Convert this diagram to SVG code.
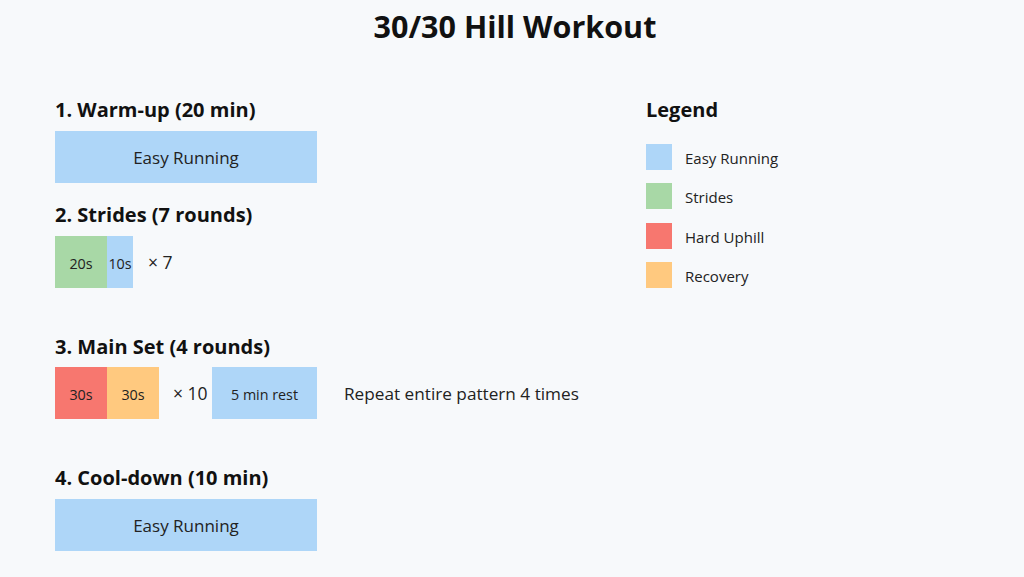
<svg xmlns="http://www.w3.org/2000/svg" width="1024" height="577" viewBox="0 0 1024 577">
<style>
.bg{fill:#f7f9fb}
.h{font-family:"Open Sans","Noto Sans",sans-serif;font-weight:bold;font-size:20px;fill:#111}
.t{font-family:"Open Sans","Noto Sans",sans-serif;font-size:17px;fill:#222;text-anchor:middle;dominant-baseline:central}
.s{font-family:"Open Sans","Noto Sans",sans-serif;font-size:14.3px;fill:#222;text-anchor:middle;dominant-baseline:central}
.l{font-family:"Open Sans","Noto Sans",sans-serif;font-size:15px;fill:#222;dominant-baseline:central}
.easy{fill:#aed6f8}
.str{fill:#a8d8a6}
.hard{fill:#f7776f}
.rec{fill:#ffc97f}
</style>
<rect class="bg" x="0" y="0" width="1024" height="577"/>
<text x="515" y="38" text-anchor="middle" style="font-family:'Open Sans','Noto Sans',sans-serif;font-weight:bold;font-size:30.5px;fill:#111">30/30 Hill Workout</text>
<g id="warmup">
<text class="h" x="55" y="117">1. Warm-up (20 min)</text>
<rect class="easy" x="55" y="131" width="262" height="52"/>
<text class="t" x="186" y="157">Easy Running</text>
</g>
<g id="strides">
<text class="h" x="55" y="222">2. Strides (7 rounds)</text>
<rect class="str" x="55" y="236" width="52" height="52"/>
<rect class="easy" x="107" y="236" width="26" height="52"/>
<text class="s" x="81" y="263">20s</text>
<text class="s" x="120" y="263">10s</text>
<text class="l" x="148" y="262" style="font-size:17.5px">× 7</text>
</g>
<g id="mainset">
<text class="h" x="55" y="354">3. Main Set (4 rounds)</text>
<rect class="hard" x="55" y="367" width="52" height="52"/>
<rect class="rec" x="107" y="367" width="52" height="52"/>
<text class="s" x="81" y="394">30s</text>
<text class="s" x="133" y="394">30s</text>
<text class="l" x="173" y="393" style="font-size:17.5px">× 10</text>
<rect class="easy" x="212" y="367" width="105" height="52"/>
<text class="s" x="264.5" y="394">5 min rest</text>
<text class="l" x="344" y="393" style="font-size:17.2px">Repeat entire pattern 4 times</text>
</g>
<g id="cooldown">
<text class="h" x="55" y="485">4. Cool-down (10 min)</text>
<rect class="easy" x="55" y="499" width="262" height="52"/>
<text class="t" x="186" y="525">Easy Running</text>
</g>
<g id="legend">
<text class="h" x="646" y="117">Legend</text>
<rect class="easy" x="646" y="144" width="26" height="26"/>
<text class="l" x="685" y="158">Easy Running</text>
<rect class="str" x="646" y="183" width="26" height="26"/>
<text class="l" x="685" y="197">Strides</text>
<rect class="hard" x="646" y="223" width="26" height="26"/>
<text class="l" x="685" y="237">Hard Uphill</text>
<rect class="rec" x="646" y="262" width="26" height="26"/>
<text class="l" x="685" y="276">Recovery</text>
</g>
<g id="connectors"/>
</svg>
